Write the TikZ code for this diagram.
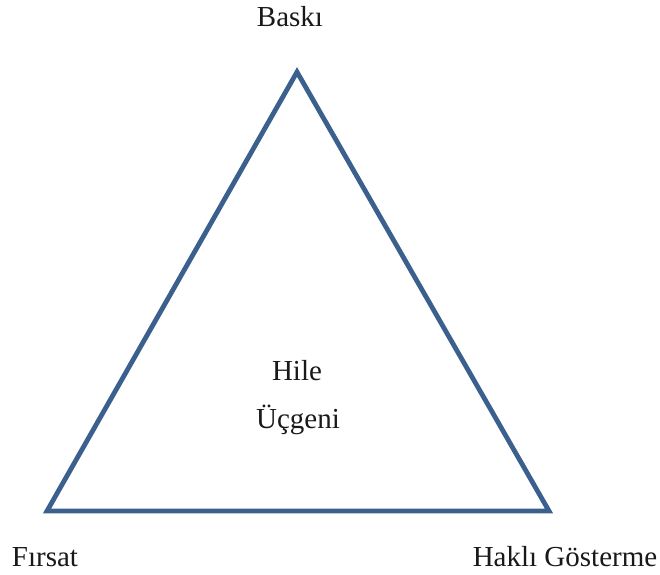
\documentclass[tikz,border=0pt]{standalone}
\usepackage{fontspec}
\setmainfont{Liberation Serif}
\begin{document}
\begin{tikzpicture}[x=1pt,y=-1pt,
  edge/.style={draw={rgb,255:red,59;green,96;blue,141},line width=4.8pt,line join=miter},
  label/.style={font=\fontsize{29}{35}\selectfont,anchor=base,inner sep=0pt,text=black!90}]
  \useasboundingbox (0,0) rectangle (660,574);
  % corners of the triangle
  \coordinate (top) at (297,72);
  \coordinate (left) at (47,511);
  \coordinate (right) at (549,511);
  \draw[edge] (top) -- (left) -- (right) -- cycle;
  % corner labels
  \node[label] (baski) at (290,26) {Baskı};
  \node[label] (firsat) at (45,566) {Fırsat};
  \node[label] (hakli) at (565,566) {Haklı Gösterme};
  % centre label
  \node[label] (hile) at (297,380) {Hile};
  \node[label] (ucgeni) at (298,428) {Üçgeni};
\end{tikzpicture}
\end{document}
